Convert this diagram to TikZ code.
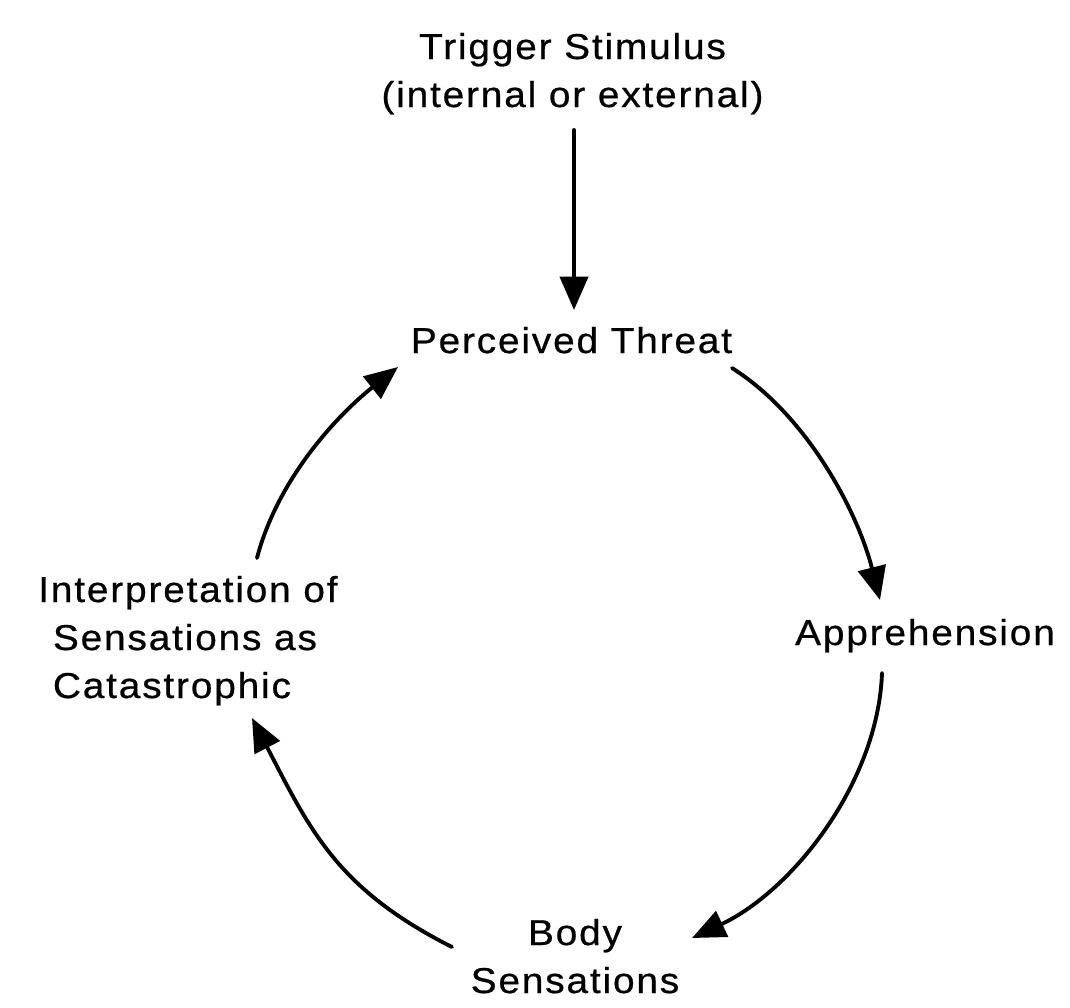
\documentclass[tikz,border=0pt]{standalone}
\usepackage{fontspec}
\setmainfont[FakeStretch=1.08,LetterSpace=5,FakeBold=0.6]{Liberation Sans}
\usetikzlibrary{arrows.meta}
\begin{document}
\begin{tikzpicture}[x=0.75pt,y=-0.75pt,
  lbl/.style={inner sep=0pt, font=\fontsize{27}{36}\selectfont, text=black},
  arr/.style={line width=2.9pt, line cap=round, -{Triangle[length=25pt,width=21pt]}}]
\useasboundingbox[fill=white] (0,0) rectangle (1070,1007);
\node[lbl, align=center, anchor=base] (trig) at (572.5,107) {Trigger Stimulus\\(internal or external)};
\node[lbl, anchor=base] (pt) at (571.5,353) {Perceived Threat};
\node[lbl, anchor=base] (app) at (925,645) {Apprehension};
\node[lbl, align=left, anchor=base west] (interp) at (38,698) {Interpretation of\\\hspace*{11pt}Sensations as\\\hspace*{11pt}Catastrophic};
\node[lbl, align=center, anchor=base] (body) at (575,993) {Body\\Sensations};
\draw[arr] ([shift={(1.5,23)}]trig.base) -- ([shift={(2.5,-43)}]pt.base);
\draw[arr] ([shift={(160.5,15)}]pt.base) .. controls +(76,48) and +(-22,-87) .. ([shift={(-45,-45)}]app.base);
\draw[arr] ([shift={(-43,28)}]app.base) .. controls +(-4,110) and +(100,-47) .. ([shift={(117,-55)}]body.base);
\draw[arr] ([shift={(-123,-46)}]body.base) .. controls +(-115,-58) and +(58,112) .. ([shift={(214,20)}]interp.base west);
\draw[arr] ([shift={(219,-140)}]interp.base west) .. controls +(20,-77) and +(-63,50) .. ([shift={(-173.5,14)}]pt.base);
\end{tikzpicture}
\end{document}
